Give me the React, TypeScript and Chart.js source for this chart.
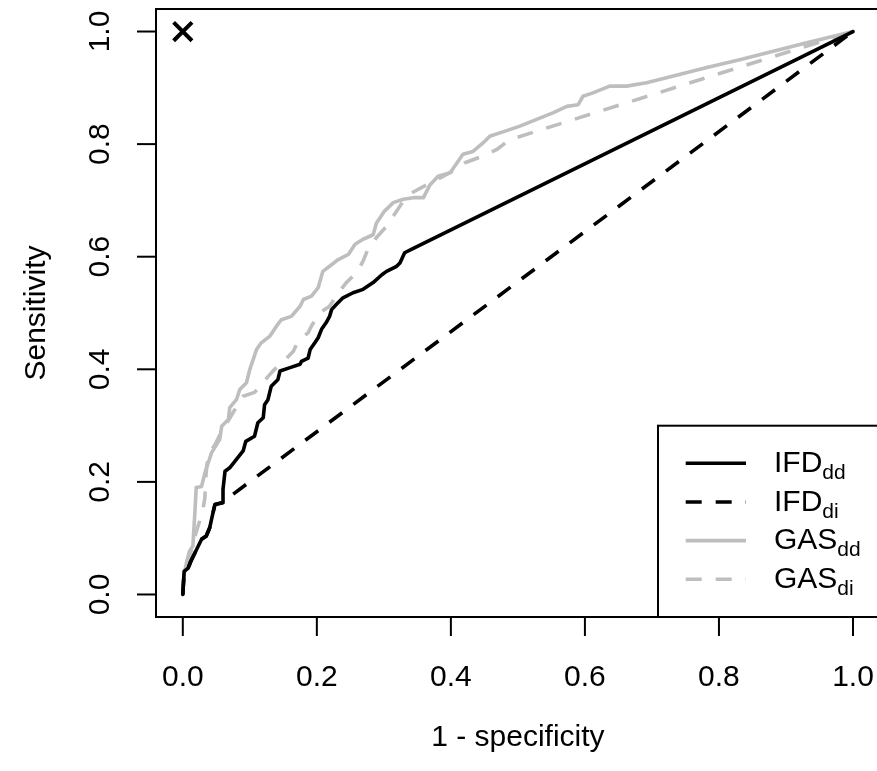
import React, { useEffect, useRef } from "react";
import { Chart, registerables } from "chart.js";

Chart.register(...registerables);

// ---- data ----
const tickValues = [0, 0.2, 0.4, 0.6, 0.8, 1.0];
const tickLabels = ["0.0", "0.2", "0.4", "0.6", "0.8", "1.0"];
const xTitle = "1 - specificity";
const yTitle = "Sensitivity";

const legendNames = ["IFD", "IFD", "GAS", "GAS"];
const legendSubs = ["dd", "di", "dd", "di"];

const ifdDdX = [0, 0.002, 0.008, 0.012, 0.028, 0.035, 0.040, 0.045, 0.048, 0.060, 0.060, 0.063, 0.070, 0.080, 0.090, 0.094, 0.107, 0.112, 0.120, 0.122, 0.127, 0.132, 0.142, 0.145, 0.160, 0.175, 0.177, 0.187, 0.190, 0.197, 0.202, 0.207, 0.214, 0.219, 0.222, 0.229, 0.239, 0.254, 0.269, 0.284, 0.297, 0.304, 0.319, 0.324, 0.331, 0.341, 1];
const ifdDdY = [0, 0.041, 0.047, 0.059, 0.098, 0.104, 0.118, 0.145, 0.160, 0.163, 0.187, 0.219, 0.225, 0.240, 0.255, 0.272, 0.281, 0.305, 0.314, 0.337, 0.346, 0.370, 0.382, 0.397, 0.403, 0.409, 0.414, 0.420, 0.435, 0.447, 0.456, 0.471, 0.483, 0.494, 0.506, 0.515, 0.527, 0.536, 0.542, 0.554, 0.568, 0.574, 0.583, 0.589, 0.607, 0.613, 1];

const ifdDiX = [0, 0.002, 0.008, 0.012, 0.028, 0.035, 0.040, 0.045, 0.048, 0.058, 1];
const ifdDiY = [0, 0.041, 0.047, 0.059, 0.098, 0.104, 0.118, 0.145, 0.160, 0.163, 1];

const gasDdX = [0, 0.002, 0.006, 0.010, 0.015, 0.018, 0.020, 0.028, 0.033, 0.038, 0.043, 0.055, 0.058, 0.068, 0.070, 0.080, 0.085, 0.095, 0.100, 0.110, 0.117, 0.130, 0.140, 0.147, 0.162, 0.175, 0.180, 0.192, 0.202, 0.209, 0.219, 0.232, 0.247, 0.257, 0.269, 0.284, 0.289, 0.301, 0.314, 0.329, 0.346, 0.359, 0.369, 0.381, 0.399, 0.418, 0.433, 0.448, 0.458, 0.481, 0.503, 0.528, 0.553, 0.573, 0.590, 0.597, 0.612, 0.637, 0.662, 0.692, 0.732, 0.782, 0.831, 0.881, 0.931, 1];
const gasDdY = [0, 0.036, 0.059, 0.077, 0.086, 0.145, 0.190, 0.192, 0.216, 0.234, 0.252, 0.275, 0.299, 0.311, 0.332, 0.346, 0.364, 0.376, 0.400, 0.435, 0.447, 0.459, 0.477, 0.488, 0.494, 0.512, 0.524, 0.530, 0.545, 0.574, 0.583, 0.595, 0.604, 0.622, 0.631, 0.639, 0.660, 0.681, 0.696, 0.702, 0.705, 0.705, 0.728, 0.743, 0.749, 0.782, 0.787, 0.802, 0.814, 0.823, 0.832, 0.844, 0.856, 0.867, 0.870, 0.885, 0.891, 0.903, 0.903, 0.909, 0.921, 0.936, 0.950, 0.965, 0.980, 1];

const gasDiX = [0, 0.001, 0.007, 0.013, 0.019, 0.025, 0.030, 0.033, 0.034, 0.036, 0.040, 0.048, 0.058, 0.067, 0.078, 0.090, 0.107, 0.118, 0.127, 0.137, 0.152, 0.165, 0.172, 0.187, 0.192, 0.204, 0.219, 0.232, 0.244, 0.259, 0.269, 0.277, 0.289, 0.304, 0.314, 0.329, 0.341, 0.364, 0.384, 0.403, 0.421, 0.448, 0.468, 0.488, 1];
const gasDiY = [0, 0.027, 0.053, 0.080, 0.107, 0.130, 0.151, 0.172, 0.204, 0.231, 0.252, 0.266, 0.290, 0.307, 0.329, 0.352, 0.359, 0.373, 0.387, 0.400, 0.416, 0.432, 0.450, 0.465, 0.477, 0.500, 0.512, 0.536, 0.554, 0.571, 0.592, 0.616, 0.634, 0.654, 0.672, 0.699, 0.713, 0.728, 0.740, 0.752, 0.767, 0.779, 0.790, 0.808, 1];

const refPointX = [0];
const refPointY = [1];

// ---- styles ----
const FONT = '"Liberation Sans", Arial, Helvetica, sans-serif';
const FS = 30;
const FS_SUB = 21;
const BLACK = "#000000";
const GRAY = "#BEBEBE";
const DASH = [16, 14];
const LW = 3.6;
const LINE_STYLES = [
  { color: BLACK, dash: [] as number[] },
  { color: BLACK, dash: DASH },
  { color: GRAY, dash: [] as number[] },
  { color: GRAY, dash: DASH },
];

const toPts = (xs: number[], ys: number[]) => xs.map((x, i) => ({ x, y: ys[i] }));

const rPlotPlugin = {
  id: "rPlot",
  beforeDatasetsDraw(chart: any) {
    const ctx = chart.ctx;
    ctx.save();
    ctx.fillStyle = "#ffffff";
    ctx.fillRect(0, 0, chart.width, chart.height);
    ctx.restore();
  },
  afterDatasetsDraw(chart: any) {
    const ctx = chart.ctx;
    const a = chart.chartArea;
    const xs = chart.scales.x;
    const ys = chart.scales.y;
    ctx.save();

    // legend (bottom right)
    const lw = 221.8;
    const lh = 191.3;
    const lx = a.right - lw;
    const ly = a.bottom - lh;
    ctx.fillStyle = "#ffffff";
    ctx.fillRect(lx, ly, lw, lh);
    ctx.strokeStyle = BLACK;
    ctx.lineWidth = 2;
    ctx.strokeRect(lx, ly, lw, lh);
    for (let i = 0; i < legendNames.length; i++) {
      const yy = ly + 37.6 + i * 38.67;
      const st = LINE_STYLES[i];
      ctx.beginPath();
      ctx.strokeStyle = st.color;
      ctx.lineWidth = LW;
      ctx.lineCap = "butt";
      ctx.setLineDash(st.dash);
      ctx.moveTo(lx + 27.7, yy);
      ctx.lineTo(lx + 88, yy);
      ctx.stroke();
      ctx.setLineDash([]);
      ctx.fillStyle = BLACK;
      ctx.textAlign = "left";
      ctx.textBaseline = "alphabetic";
      ctx.font = `${FS}px ${FONT}`;
      const tx = lx + 116;
      const base = yy + 8.8;
      ctx.fillText(legendNames[i], tx, base);
      const w = ctx.measureText(legendNames[i]).width;
      ctx.font = `${FS_SUB}px ${FONT}`;
      ctx.fillText(legendSubs[i], tx + w, base + 7);
    }

    // box
    ctx.strokeStyle = BLACK;
    ctx.lineWidth = 2;
    ctx.setLineDash([]);
    ctx.strokeRect(a.left, a.top, a.right - a.left, a.bottom - a.top);

    // ticks
    ctx.lineWidth = 2;
    ctx.lineCap = "butt";
    ctx.fillStyle = BLACK;
    ctx.font = `${FS}px ${FONT}`;
    tickValues.forEach((v, i) => {
      const px = xs.getPixelForValue(v);
      ctx.beginPath();
      ctx.moveTo(px, a.bottom);
      ctx.lineTo(px, a.bottom + 19);
      ctx.stroke();
      ctx.textAlign = "center";
      ctx.textBaseline = "alphabetic";
      ctx.fillText(tickLabels[i], px, a.bottom + 69);

      const py = ys.getPixelForValue(v);
      ctx.beginPath();
      ctx.moveTo(a.left, py);
      ctx.lineTo(a.left - 19, py);
      ctx.stroke();
      ctx.save();
      ctx.translate(a.left - 47, py);
      ctx.rotate(-Math.PI / 2);
      ctx.textAlign = "center";
      ctx.fillText(tickLabels[i], 0, 0);
      ctx.restore();
    });

    // axis titles
    const cx = (xs.getPixelForValue(0) + xs.getPixelForValue(1)) / 2;
    ctx.textAlign = "center";
    ctx.fillText(xTitle, cx, a.bottom + 129);
    const cy = (ys.getPixelForValue(0) + ys.getPixelForValue(1)) / 2;
    ctx.save();
    ctx.translate(a.left - 111, cy);
    ctx.rotate(-Math.PI / 2);
    ctx.fillText(yTitle, 0, 0);
    ctx.restore();

    ctx.restore();
  },
};

export default function App() {
  const ref = useRef<HTMLCanvasElement | null>(null);
  useEffect(() => {
    if (!ref.current) return;
    const mk = (data: any[], i: number) => ({
      data,
      borderColor: LINE_STYLES[i].color,
      borderWidth: LW,
      borderDash: LINE_STYLES[i].dash,
      borderCapStyle: LINE_STYLES[i].dash.length ? "butt" : "round",
      borderJoinStyle: "round",
      pointRadius: 0,
      fill: false,
      tension: 0,
    });
    const chart = new Chart(ref.current, {
      type: "line",
      data: {
        datasets: [
          {
            type: "scatter",
            data: toPts(refPointX, refPointY),
            pointStyle: "crossRot",
            pointRadius: 13,
            borderColor: BLACK,
            borderWidth: 4,
            showLine: false,
          } as any,
          { label: "IFDdd", ...mk(toPts(ifdDdX, ifdDdY), 0) },
          { label: "IFDdi", ...mk(toPts(ifdDiX, ifdDiY), 1) },
          { label: "GASdd", ...mk(toPts(gasDdX, gasDdY), 2) },
          { label: "GASdi", ...mk(toPts(gasDiX, gasDiY), 3) },
        ] as any,
      },
      options: {
        animation: false,
        responsive: false,
        maintainAspectRatio: false,
        devicePixelRatio: 1,
        layout: { autoPadding: false, padding: { left: 156, top: 9, right: 10.2, bottom: 154 } },
        scales: {
          x: { type: "linear", min: -0.04, max: 1.04, display: false },
          y: { type: "linear", min: -0.04, max: 1.04, display: false },
        },
        plugins: {
          legend: { display: false },
          tooltip: { enabled: false },
        },
        events: [],
      } as any,
      plugins: [rPlotPlugin],
    });
    return () => chart.destroy();
  }, []);
  return (
    <div
      style={{
        position: "absolute",
        left: 0,
        top: 0,
        width: 877,
        height: 771,
        overflow: "hidden",
        background: "#ffffff",
      }}
    >
      <canvas ref={ref} width={890} height={771} style={{ width: 890, height: 771, display: "block" }} />
    </div>
  );
}
